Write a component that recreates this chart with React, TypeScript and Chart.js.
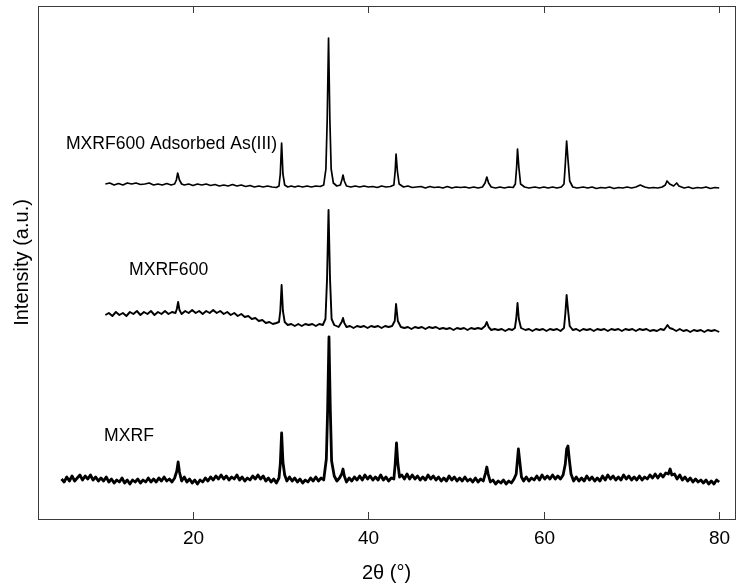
import React, { useEffect, useRef } from "react";
import { Chart, registerables } from "chart.js";

Chart.register(...registerables);

// 2θ axis ticks
const xTicks = [20, 40, 60, 80];
const traceNames = ["MXRF600 Adsorbed As(III)", "MXRF600", "MXRF"];
const xTitle = "2θ (°)";
const yTitle = "Intensity (a.u.)";

// Intensity (a.u., offset stacked) vs 2θ — MXRF600 Adsorbed As(III)
const adsorbed: [number, number][] = [
  [10, 335], [10.5, 336], [11, 334], [11.5, 335.5], [12, 334], [12.5, 336], [13, 335], [13.5, 336],
  [14, 334.5], [14.5, 335], [15, 336], [15.5, 334], [16, 335], [16.5, 334], [17, 335.5], [17.5, 334],
  [17.9, 335], [18.1, 339], [18.25, 346], [18.45, 339], [18.7, 335], [19, 334], [19.5, 335], [20, 333.5],
  [20.5, 335], [21, 334], [21.5, 335], [22, 333.5], [22.5, 334.5], [23, 333], [23.5, 334], [24, 333],
  [24.5, 334.5], [25, 333], [25.5, 334], [26, 332.5], [26.5, 333.5], [27, 332], [27.5, 333], [28, 332],
  [28.5, 333], [29, 332], [29.5, 331.5], [29.8, 333], [29.95, 345], [30.1, 376], [30.25, 345], [30.45, 334],
  [30.8, 332], [31.2, 333], [31.6, 332], [32, 333], [32.5, 332], [33, 333], [33.5, 332], [34, 333],
  [34.5, 332.5], [34.9, 334], [35.15, 350], [35.3, 400], [35.45, 481], [35.6, 400], [35.75, 350], [36, 336],
  [36.4, 333], [36.8, 334], [37.0, 340], [37.1, 344], [37.25, 338], [37.5, 333], [38, 332], [38.5, 333],
  [39, 332], [39.5, 333], [40, 332], [40.5, 332.5], [41, 331.5], [41.5, 333], [42, 332], [42.5, 332.5],
  [42.9, 334], [43.05, 348], [43.15, 365], [43.3, 348], [43.5, 335], [44, 332], [44.5, 333], [45, 331.5],
  [46, 332.5], [46.5, 331], [47, 332.5], [47.5, 331.5], [48, 332], [48.5, 331], [49, 332.5], [49.5, 331],
  [50, 332], [50.5, 331.5], [51, 332], [51.5, 331], [52, 332], [52.5, 331], [53, 332], [53.3, 336],
  [53.5, 342], [53.7, 336], [54, 332], [54.5, 331], [55, 332], [55.5, 331], [56, 332], [56.5, 331.5],
  [56.75, 335], [56.9, 352], [57.0, 370], [57.15, 352], [57.35, 335], [57.8, 332], [58.3, 331], [59, 332],
  [59.5, 331], [60, 332], [60.5, 331], [61, 332], [61.5, 331], [62, 332], [62.3, 335], [62.45, 355],
  [62.6, 378], [62.75, 360], [62.95, 338], [63.3, 332], [63.8, 331], [64.5, 332], [65, 331], [65.5, 332],
  [66, 330.5], [66.5, 331.5], [67, 331], [67.5, 332], [68, 330.5], [68.5, 331.5], [69, 331], [69.5, 332],
  [70, 331], [70.5, 332], [71, 334], [71.5, 332], [72, 331], [72.5, 331.5], [73, 331], [73.5, 332],
  [73.85, 334], [74.05, 338], [74.35, 335], [74.8, 333], [75.15, 336], [75.4, 333], [76, 331], [76.5, 332],
  [77, 330.5], [77.5, 331.5], [78, 331], [78.5, 332], [79, 330.5], [79.5, 331.5], [80, 331],
];

// MXRF600
const mxrf600: [number, number][] = [
  [10.0, 204], [10.4, 206], [10.8, 203], [11.2, 207], [11.6, 204], [12.0, 206], [12.4, 203], [12.8, 207],
  [13.2, 205], [13.6, 208], [14.0, 204], [14.4, 207], [14.8, 205], [15.2, 208], [15.6, 204], [16.0, 207],
  [16.4, 205], [16.8, 208], [17.2, 205], [17.6, 207], [18.0, 206], [18.15, 210], [18.3, 217], [18.45, 209],
  [18.7, 205], [19.1, 208], [19.5, 206], [19.9, 209], [20.3, 206], [20.7, 208], [21.1, 205], [21.5, 208],
  [21.9, 206], [22.3, 209], [22.7, 206], [23.1, 208], [23.5, 205], [23.9, 207], [24.3, 204], [24.7, 206],
  [25.1, 203], [25.5, 205], [25.9, 202], [26.3, 203], [26.7, 200], [27.1, 201], [27.5, 198], [27.9, 199],
  [28.3, 196], [28.7, 197], [29.1, 195], [29.5, 196], [29.8, 197], [29.95, 208], [30.1, 234], [30.25, 208],
  [30.45, 197], [30.8, 194], [31.2, 195], [31.6, 193], [32.0, 195], [32.4, 193], [32.8, 195], [33.2, 194],
  [33.6, 195], [34.0, 193], [34.4, 195], [34.8, 194], [35.1, 200], [35.28, 240], [35.45, 309], [35.62, 240],
  [35.8, 200], [36.1, 194], [36.6, 192], [36.95, 197], [37.1, 201], [37.25, 196], [37.5, 192], [37.9, 193],
  [38.3, 191], [38.7, 193], [39.1, 192], [39.5, 193], [39.9, 191], [40.3, 193], [40.7, 192], [41.1, 193],
  [41.5, 191], [41.9, 193], [42.3, 192], [42.7, 193], [43.0, 198], [43.15, 215], [43.35, 198], [43.7, 192],
  [44.1, 191], [44.5, 192], [44.9, 190], [45.3, 192], [45.7, 191], [46.1, 192], [46.5, 190], [46.9, 192],
  [47.3, 191], [47.7, 192], [48.1, 190], [48.5, 191], [48.9, 190], [49.3, 191], [49.7, 189], [50.1, 191],
  [50.5, 190], [50.9, 191], [51.3, 189], [51.7, 191], [52.1, 190], [52.5, 191], [52.9, 190], [53.3, 193],
  [53.5, 197], [53.7, 192], [54.0, 189], [54.4, 190], [54.8, 189], [55.2, 190], [55.6, 188], [56.0, 190],
  [56.4, 189], [56.7, 191], [56.85, 200], [57.0, 216], [57.15, 200], [57.4, 191], [57.9, 189], [58.3, 190],
  [58.7, 188], [59.1, 190], [59.5, 189], [59.9, 190], [60.3, 188], [60.7, 190], [61.1, 189], [61.5, 190],
  [61.9, 188], [62.3, 191], [62.45, 205], [62.6, 224], [62.75, 210], [62.95, 193], [63.3, 189], [63.7, 190],
  [64.1, 188], [64.5, 190], [64.9, 189], [65.3, 190], [65.7, 188], [66.1, 190], [66.5, 189], [66.9, 190],
  [67.3, 188], [67.7, 190], [68.1, 189], [68.5, 190], [68.9, 188], [69.3, 190], [69.7, 189], [70.1, 190],
  [70.5, 188], [70.9, 190], [71.3, 189], [71.7, 190], [72.1, 188], [72.5, 189], [72.9, 188], [73.3, 190],
  [73.7, 189], [73.95, 192], [74.1, 194], [74.35, 191], [74.7, 190], [75.1, 188], [75.5, 190], [75.9, 188],
  [76.3, 189], [76.7, 187], [77.1, 189], [77.5, 188], [77.9, 189], [78.3, 187], [78.7, 189], [79.1, 188],
  [79.5, 189], [80.0, 187],
];

// MXRF
const mxrf: [number, number][] = [
  [5.0, 40], [5.3, 37], [5.6, 42], [5.9, 38], [6.2, 43], [6.5, 38], [6.8, 41], [7.1, 44], [7.4, 39],
  [7.7, 43], [8.0, 40], [8.3, 44], [8.6, 39], [8.9, 42], [9.2, 38], [9.5, 41], [9.8, 38], [10.1, 42],
  [10.4, 37], [10.7, 40], [11.0, 36], [11.3, 39], [11.6, 37], [11.9, 41], [12.2, 36], [12.5, 39],
  [12.8, 35], [13.1, 39], [13.4, 37], [13.7, 40], [14.0, 36], [14.3, 39], [14.6, 37], [14.9, 41],
  [15.2, 37], [15.5, 40], [15.8, 37], [16.1, 41], [16.4, 38], [16.7, 42], [17.0, 38], [17.3, 40],
  [17.6, 37], [17.9, 41], [18.15, 48], [18.3, 57], [18.45, 47], [18.7, 38], [19.0, 42], [19.3, 37],
  [19.6, 40], [19.9, 36], [20.2, 39], [20.5, 35], [20.8, 39], [21.1, 37], [21.4, 41], [21.7, 38],
  [22.0, 42], [22.3, 39], [22.6, 43], [22.9, 40], [23.2, 44], [23.5, 40], [23.8, 43], [24.1, 39],
  [24.4, 42], [24.7, 40], [25.0, 44], [25.3, 39], [25.6, 42], [25.9, 38], [26.2, 41], [26.5, 39],
  [26.8, 43], [27.1, 40], [27.4, 44], [27.7, 40], [28.0, 43], [28.3, 38], [28.6, 41], [28.9, 37],
  [29.2, 40], [29.5, 36], [29.8, 41], [29.95, 55], [30.1, 86], [30.25, 57], [30.45, 44], [30.7, 38],
  [31.0, 42], [31.3, 38], [31.6, 41], [31.9, 37], [32.2, 40], [32.5, 36], [32.8, 39], [33.1, 37],
  [33.4, 41], [33.7, 38], [34.0, 42], [34.3, 38], [34.6, 41], [34.9, 39], [35.2, 60], [35.35, 110],
  [35.5, 182], [35.65, 110], [35.8, 58], [36.1, 43], [36.4, 38], [36.7, 41], [36.95, 45], [37.1, 50],
  [37.25, 43], [37.5, 37], [37.8, 41], [38.1, 38], [38.4, 42], [38.7, 39], [39.0, 43], [39.3, 39],
  [39.6, 44], [39.9, 40], [40.2, 43], [40.5, 39], [40.8, 42], [41.1, 39], [41.4, 44], [41.7, 39],
  [42.0, 42], [42.3, 38], [42.6, 41], [42.9, 40], [43.05, 55], [43.2, 76], [43.35, 56], [43.55, 42],
  [43.8, 44], [44.1, 40], [44.4, 45], [44.7, 40], [45.0, 44], [45.3, 40], [45.6, 43], [45.9, 39],
  [46.2, 42], [46.5, 39], [46.8, 44], [47.1, 40], [47.4, 43], [47.7, 39], [48.0, 42], [48.3, 38],
  [48.6, 41], [48.9, 38], [49.2, 43], [49.5, 39], [49.8, 42], [50.1, 38], [50.4, 41], [50.7, 38],
  [51.0, 42], [51.3, 38], [51.6, 40], [51.9, 37], [52.2, 41], [52.5, 37], [52.8, 40], [53.1, 38],
  [53.35, 46], [53.5, 52], [53.65, 45], [53.9, 37], [54.2, 39], [54.5, 35], [54.8, 38], [55.1, 36],
  [55.4, 39], [55.7, 35], [56.0, 38], [56.3, 36], [56.6, 40], [56.85, 45], [57.0, 60], [57.1, 70],
  [57.25, 58], [57.45, 42], [57.7, 38], [58.0, 42], [58.3, 38], [58.6, 41], [58.9, 39], [59.2, 43],
  [59.5, 39], [59.8, 44], [60.1, 40], [60.4, 43], [60.7, 40], [61.0, 44], [61.3, 40], [61.6, 43],
  [61.9, 40], [62.2, 44], [62.45, 55], [62.6, 70], [62.75, 73], [62.9, 60], [63.1, 45], [63.4, 38],
  [63.7, 42], [64.0, 38], [64.3, 41], [64.6, 38], [64.9, 43], [65.2, 39], [65.5, 42], [65.8, 38],
  [66.1, 41], [66.4, 38], [66.7, 43], [67.0, 39], [67.3, 44], [67.6, 40], [67.9, 43], [68.2, 39],
  [68.5, 42], [68.8, 39], [69.1, 44], [69.4, 40], [69.7, 43], [70.0, 39], [70.3, 42], [70.6, 39],
  [70.9, 43], [71.2, 39], [71.5, 42], [71.8, 40], [72.1, 44], [72.4, 41], [72.7, 45], [73.0, 41],
  [73.3, 45], [73.6, 42], [73.9, 46], [74.2, 45], [74.4, 50], [74.6, 44], [74.9, 45], [75.2, 40],
  [75.5, 44], [75.8, 39], [76.1, 42], [76.4, 38], [76.7, 41], [77.0, 37], [77.3, 40], [77.6, 37],
  [77.9, 39], [78.2, 36], [78.5, 39], [78.8, 35], [79.1, 38], [79.4, 35], [79.7, 39], [80.0, 37],
];

const FONT = '"Liberation Sans", Arial, Helvetica, sans-serif';

const framePlugin = {
  id: "xrdFrame",
  afterDraw(chart: any, _args: any, opts: any) {
    const { ctx, chartArea } = chart;
    const { left, right, top, bottom } = chartArea;
    const xs = chart.scales.x;
    const ys = chart.scales.y;
    ctx.save();
    ctx.strokeStyle = "#3a3a3a";
    ctx.lineWidth = 1;
    ctx.strokeRect(Math.round(left) + 0.5, Math.round(top) + 0.5, Math.round(right - left), Math.round(bottom - top));
    ctx.fillStyle = "#000";
    ctx.font = `19px ${FONT}`;
    ctx.textAlign = "center";
    ctx.textBaseline = "middle";
    for (const t of xTicks) {
      const px = Math.round(xs.getPixelForValue(t)) + 0.5;
      ctx.beginPath();
      ctx.moveTo(px, bottom);
      ctx.lineTo(px, bottom - 7);
      ctx.moveTo(px, top);
      ctx.lineTo(px, top + 7);
      ctx.stroke();
      ctx.fillText(String(t), px, bottom + 20);
    }
    ctx.font = `20px ${FONT}`;
    ctx.fillText(xTitle, (left + right) / 2, bottom + 54);
    ctx.save();
    ctx.translate(22, (top + bottom) / 2);
    ctx.rotate(-Math.PI / 2);
    ctx.fillText(yTitle, 0, 0);
    ctx.restore();
    ctx.font = `17.6px ${FONT}`;
    ctx.textAlign = "left";
    opts.labels.forEach((l: any, i: number) => {
      ctx.fillText(traceNames[i], xs.getPixelForValue(l.x), ys.getPixelForValue(l.y));
    });
    ctx.restore();
  },
};

export default function App() {
  const ref = useRef<HTMLCanvasElement>(null);
  useEffect(() => {
    if (!ref.current) return;
    const toXY = (arr: [number, number][]) => arr.map(([x, y]) => ({ x, y }));
    const mk = (label: string, arr: [number, number][], w: number) => ({
      label,
      data: toXY(arr),
      borderColor: "#000",
      borderWidth: w,
      borderJoinStyle: "round" as const,
      pointRadius: 0,
      tension: 0,
      fill: false,
    });
    const chart = new Chart(ref.current, {
      type: "line",
      data: {
        datasets: [
          mk(traceNames[0], adsorbed, 1.7),
          mk(traceNames[1], mxrf600, 1.9),
          mk(traceNames[2], mxrf, 2.8),
        ],
      },
      options: {
        animation: false,
        responsive: false,
        maintainAspectRatio: false,
        layout: { padding: { left: 38, top: 6, right: 2, bottom: 65 } },
        scales: {
          x: { type: "linear", min: 2.32, max: 81.8, display: false },
          y: { type: "linear", min: 0, max: 513, display: false },
        },
        plugins: {
          legend: { display: false },
          tooltip: { enabled: false },
          xrdFrame: {
            labels: [
              { x: 5.5, y: 375 },
              { x: 12.7, y: 249 },
              { x: 9.85, y: 83 },
            ],
          },
        } as any,
      },
      plugins: [framePlugin],
    });
    return () => chart.destroy();
  }, []);
  return (
    <div style={{ position: "fixed", left: 0, top: 0, width: 737, height: 584, background: "#fff" }}>
      <canvas ref={ref} width={737} height={584} style={{ width: 737, height: 584, display: "block" }} />
    </div>
  );
}
